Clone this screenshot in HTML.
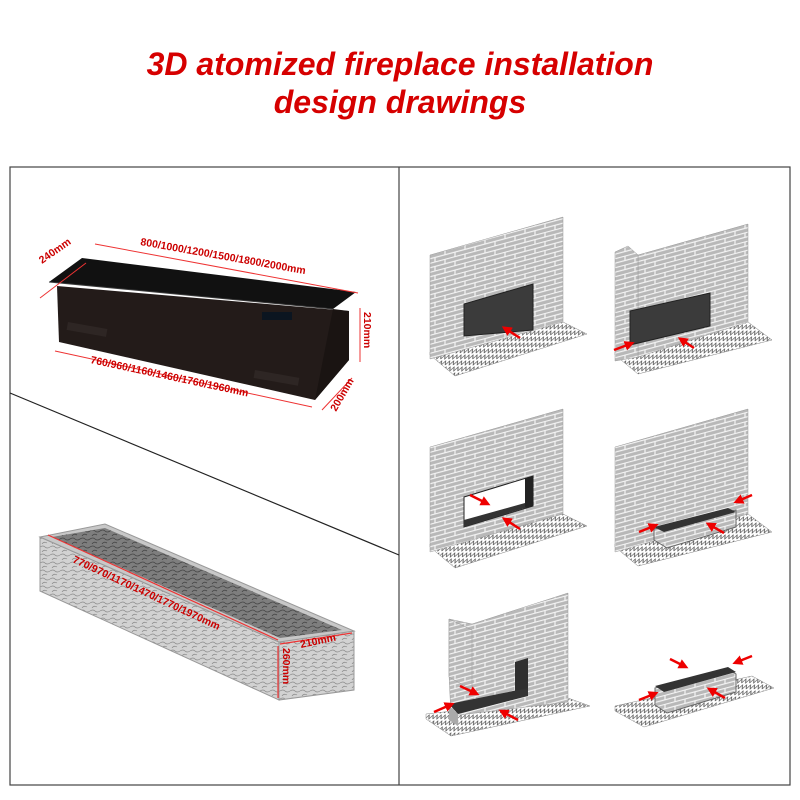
<!DOCTYPE html>
<html><head><meta charset="utf-8"><style>
body{margin:0;background:#fff;width:800px;height:800px;overflow:hidden}
svg{display:block}
</style></head><body>
<svg width="800" height="800" viewBox="0 0 800 800" xmlns="http://www.w3.org/2000/svg" font-family="Liberation Sans, sans-serif">
<defs>
<pattern id="brick" width="20" height="9" patternUnits="userSpaceOnUse" patternTransform="skewY(-15)">
<rect width="20" height="9" fill="#b8b8b8"/>
<path d="M0 0.5H20M0 5H20M5 0V5M15 5V9" stroke="#f4f4f4" stroke-width="1.2"/>
</pattern>
<pattern id="hatch" width="8" height="6" patternUnits="userSpaceOnUse" patternTransform="skewX(-30)">
<rect width="8" height="6" fill="#fff"/>
<path d="M0 5L2 1L4 5L6 1L8 5" stroke="#555" stroke-width="0.8" fill="none"/>
</pattern>
<pattern id="stone" width="10" height="8" patternUnits="userSpaceOnUse">
<rect width="10" height="8" fill="#d2d2d2"/>
<path d="M0 3Q3 1 5 3T10 3M2 8Q4 5 7 7" stroke="#8a8a8a" stroke-width="0.7" fill="none"/>
</pattern>
<pattern id="stone2" width="10" height="8" patternUnits="userSpaceOnUse">
<rect width="10" height="8" fill="#7e7e7e"/>
<path d="M0 3Q3 1 5 3T10 3M2 8Q4 5 7 7" stroke="#444" stroke-width="0.8" fill="none"/>
</pattern>
<marker id="ah" markerUnits="userSpaceOnUse" markerWidth="10" markerHeight="10" refX="5" refY="5" orient="auto"><path d="M0 0L10 5L0 10z" fill="#e00"/></marker>
</defs>

<text x="400" y="75" text-anchor="middle" font-size="32" font-weight="bold" font-style="italic" fill="#d60000">3D atomized fireplace installation</text>
<text x="400" y="113" text-anchor="middle" font-size="32" font-weight="bold" font-style="italic" fill="#d60000">design drawings</text>

<rect x="10" y="167" width="780" height="618" fill="none" stroke="#444" stroke-width="1.2"/>
<line x1="399" y1="167" x2="399" y2="785" stroke="#444" stroke-width="1.2"/>
<line x1="10" y1="393" x2="399" y2="555" stroke="#222" stroke-width="1.2"/>

<!-- fireplace -->
<polygon points="57,286 349,311 349,360 315,400 59,342" fill="#231b19"/>
<polygon points="315,400 349,360 349,311 333,309" fill="#1a1412"/>
<polygon points="49,282 82,258 356,292 333,309" fill="#111"/>
<line x1="49" y1="282" x2="333" y2="309" stroke="#3a3a3a"/>
<rect x="262" y="312" width="30" height="8" fill="#0b1520"/>
<rect x="68" y="322" width="40" height="8" fill="#2e2624" transform="rotate(10 68 322)"/>
<rect x="255" y="370" width="45" height="8" fill="#2e2624" transform="rotate(10 255 370)"/>
<g stroke="#e33" stroke-width="1" fill="none">
<line x1="40" y1="298" x2="86" y2="263"/>
<line x1="95" y1="244" x2="358" y2="293"/>
<line x1="360" y1="308" x2="360" y2="362"/>
<line x1="55" y1="351" x2="312" y2="407"/>
<line x1="322" y1="410" x2="352" y2="378"/>
</g>
<g fill="#c00" font-size="10.5" font-weight="bold">
<text x="42" y="264" transform="rotate(-35 42 264)">240mm</text>
<text x="140" y="245" transform="rotate(10 140 245)">800/1000/1200/1500/1800/2000mm</text>
<text x="364" y="312" transform="rotate(90 364 312)">210mm</text>
<text x="90" y="363" transform="rotate(12 90 363)">760/960/1160/1460/1760/1960mm</text>
<text x="336" y="412" transform="rotate(-60 336 412)">200mm</text>
</g>

<!-- stone block -->
<polygon points="40,537 279,642 279,700 40,591" fill="url(#stone)" stroke="#999"/>
<polygon points="279,642 354,631 354,690 279,700" fill="url(#stone)" stroke="#999"/>
<polygon points="40,537 105,524 354,631 279,642" fill="#c8c8c8" stroke="#999"/>
<polygon points="52,537 105,528 342,630 280,638" fill="url(#stone2)"/>
<g stroke="#e33" stroke-width="1.2"><line x1="48" y1="535" x2="278" y2="640"/><line x1="280" y1="644" x2="352" y2="633"/><line x1="278" y1="646" x2="278" y2="698"/></g>
<g fill="#c00" font-size="10.5" font-weight="bold">
<text x="72" y="562" transform="rotate(25 72 562)">770/970/1170/1470/1770/1970mm</text>
<text x="301" y="648" transform="rotate(-12 301 648)">210mm</text>
<text x="283" y="648" transform="rotate(90 283 648)">260mm</text>
</g>

<!-- panel 1 -->
<polygon points="430,355 455,376 587,334 563,322 430,352" fill="url(#hatch)" stroke="#888" stroke-width="0.5"/>
<polygon points="430,255 563,217 563,322 430,359" fill="url(#brick)" stroke="#999" stroke-width="0.5"/>
<polygon points="464,304 533,284 533,330 464,336" fill="#3b3b3b" stroke="#222"/>
<!-- panel 2 -->
<polygon points="615,355 638,374 772,340 748,322 615,352" fill="url(#hatch)" stroke="#888" stroke-width="0.5"/>
<polygon points="638,255 748,224 748,322 638,357" fill="url(#brick)" stroke="#999" stroke-width="0.5"/>
<polygon points="615,252 628,246 638,255 638,357 615,361" fill="url(#brick)" stroke="#999" stroke-width="0.5"/>
<polygon points="630,311 710,293 710,326 630,345" fill="#3b3b3b" stroke="#222"/>
<!-- panel 3 -->
<polygon points="430,547 455,568 587,526 563,514 430,544" fill="url(#hatch)" stroke="#888" stroke-width="0.5"/>
<polygon points="430,447 563,409 563,514 430,552" fill="url(#brick)" stroke="#999" stroke-width="0.5"/>
<polygon points="464,497 533,476 533,506 464,527" fill="#fff" stroke="#222"/>
<polygon points="525,478 533,476 533,506 525,508" fill="#222"/>
<polygon points="464,520 525,503 525,508 464,527" fill="#333"/>
<!-- panel 4 -->
<polygon points="615,547 638,566 772,532 748,514 615,544" fill="url(#hatch)" stroke="#888" stroke-width="0.5"/>
<polygon points="615,447 748,409 748,514 615,552" fill="url(#brick)" stroke="#999" stroke-width="0.5"/>
<polygon points="654,529 736,510 736,527 667,548 654,540" fill="url(#brick)" stroke="#666"/>
<polygon points="654,527 728,508 736,512 664,532" fill="#333"/>
<!-- panel 5 -->
<polygon points="426,719 451,736 590,706 568,698 426,714" fill="url(#hatch)" stroke="#888" stroke-width="0.5"/>
<polygon points="449,619 472,624 568,593 568,702 451,716 449,675" fill="url(#brick)" stroke="#999" stroke-width="0.5"/>
<polygon points="449,619 472,630 472,690 449,677" fill="url(#brick)" stroke="#999" stroke-width="0.5"/>
<polygon points="515,662 528,658 528,694 515,697" fill="#2f2f2f"/>
<polygon points="449,704 528,688 528,696 458,714" fill="#333"/>
<polygon points="449,706 458,714 458,726 449,720" fill="#aaa"/>
<!-- panel 6 -->
<polygon points="615,711 644,727 774,688 752,676 615,706" fill="url(#hatch)" stroke="#888" stroke-width="0.5"/>
<polygon points="655,688 728,669 736,674 736,692 667,713 655,705" fill="url(#brick)" stroke="#666"/>
<polygon points="655,686 728,667 736,672 664,692" fill="#333"/>

<!-- arrows -->
<g stroke="#e00" stroke-width="2.5" marker-end="url(#ah)">
<line x1="520" y1="338" x2="506" y2="329"/>
<line x1="614" y1="350" x2="630" y2="344"/>
<line x1="694" y1="348" x2="682" y2="340"/>
<line x1="470" y1="495" x2="486" y2="503"/>
<line x1="520" y1="529" x2="506" y2="520"/>
<line x1="752" y1="495" x2="738" y2="501"/>
<line x1="639" y1="532" x2="654" y2="526"/>
<line x1="724" y1="533" x2="710" y2="525"/>
<line x1="460" y1="686" x2="475" y2="693"/>
<line x1="434" y1="712" x2="450" y2="705"/>
<line x1="518" y1="720" x2="503" y2="712"/>
<line x1="670" y1="659" x2="684" y2="666"/>
<line x1="752" y1="656" x2="737" y2="662"/>
<line x1="639" y1="700" x2="654" y2="694"/>
<line x1="725" y1="698" x2="711" y2="690"/>
</g>
</svg>
</body></html>
